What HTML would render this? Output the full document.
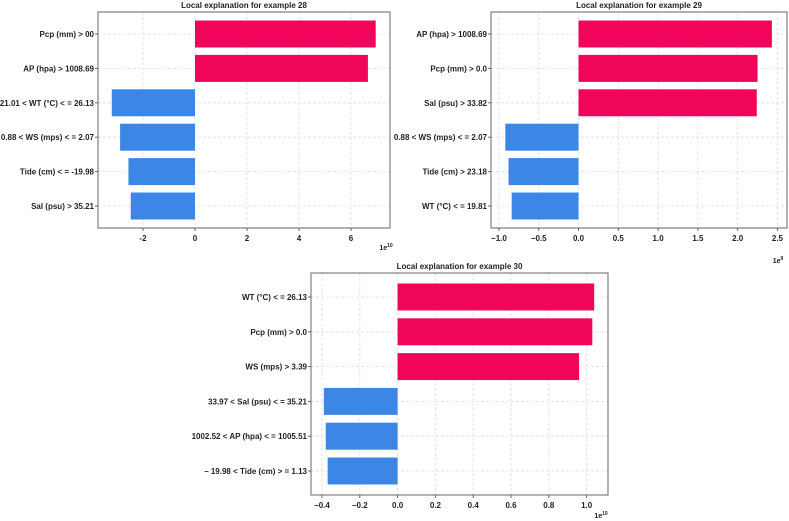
<!DOCTYPE html>
<html><head><meta charset="utf-8"><style>
html,body{margin:0;padding:0;background:#fff;width:789px;height:521px;overflow:hidden}
svg{display:block}
text{font-family:"Liberation Sans",Arial,sans-serif;font-weight:bold;fill:#222}
</style></head><body>
<svg id="s" width="789" height="521" xmlns="http://www.w3.org/2000/svg"></svg>
<script>
const labels28 = ["Pcp (mm) > 00","AP (hpa) > 1008.69","21.01 < WT (°C) < = 26.13","0.88 < WS (mps) < = 2.07","Tide (cm) < = -19.98","Sal (psu) > 35.21"];
const values28 = [6.95, 6.65, -3.2, -2.88, -2.56, -2.47];
const ticks28 = [-2, 0, 2, 4, 6];
const labels29 = ["AP (hpa) > 1008.69","Pcp (mm) > 0.0","Sal (psu) > 33.82","0.88 < WS (mps) < = 2.07","Tide (cm) > 23.18","WT (°C) < = 19.81"];
const values29 = [2.43, 2.25, 2.24, -0.92, -0.88, -0.84];
const ticks29 = [-1.0, -0.5, 0.0, 0.5, 1.0, 1.5, 2.0, 2.5];
const labels30 = ["WT (°C) < = 26.13","Pcp (mm) > 0.0","WS (mps) > 3.39","33.97 < Sal (psu) < = 35.21","1002.52 < AP (hpa) < = 1005.51","– 19.98 < Tide (cm) > = 1.13"];
const values30 = [1.04, 1.03, 0.96, -0.39, -0.38, -0.37];
const ticks30 = [-0.4, -0.2, 0.0, 0.2, 0.4, 0.6, 0.8, 1.0];

const NS="http://www.w3.org/2000/svg";
const svg=document.getElementById('s');
function mk(tag,attrs,parent){const e=document.createElementNS(NS,tag);for(const k in attrs)e.setAttribute(k,attrs[k]);(parent||svg).appendChild(e);return e;}

function chart(cfg){
  const g=mk('g',{});
  
  
  const x=v=>cfg.x0+(v-cfg.dmin)/(cfg.dmax-cfg.dmin)*(cfg.x1-cfg.x0);
  const n=cfg.labels.length;
  const pad=cfg.pad;
  const step=(cfg.y1-cfg.y0-2*pad)/(n-1);
  const yc=i=>cfg.y0+pad+step*i;
  cfg.ticks.forEach(t=>{const l=mk('line',{x1:x(t),x2:x(t),y1:cfg.y0,y2:cfg.y1,stroke:'#ddd','stroke-dasharray':'3,2','stroke-width':0.8},g);
    });
  cfg.labels.forEach((_,i)=>{const l=mk('line',{x1:cfg.x0,x2:cfg.x1,y1:yc(i),y2:yc(i),stroke:'#ddd','stroke-dasharray':'3,2','stroke-width':0.8},g);
    });
  cfg.values.forEach((v,i)=>{
    const a=x(0),b=x(v);
    const r=mk('rect',{x:Math.min(a,b),y:yc(i)-13.5,width:Math.abs(b-a),height:27,fill:v>=0?'#f0055a':'#3c87e6'},g);
    
    
  });
  const f=mk('rect',{x:cfg.x0,y:cfg.y0,width:cfg.x1-cfg.x0,height:cfg.y1-cfg.y0,fill:'none',stroke:'#666','stroke-width':1},g);
  
  cfg.labels.forEach((s,i)=>{
    mk('line',{x1:cfg.x0-3,x2:cfg.x0,y1:yc(i),y2:yc(i),stroke:'#666'},g);
    const t=mk('text',{x:cfg.x0-4,y:yc(i)+3,'font-size':8,'text-anchor':'end'},g);
    t.textContent=s;
    
  });
  cfg.ticks.forEach(tv=>{
    mk('line',{x1:x(tv),x2:x(tv),y1:cfg.y1,y2:cfg.y1+3,stroke:'#666'},g);
    const t=mk('text',{x:x(tv),y:cfg.y1+13,'font-size':8,'text-anchor':'middle'},g);
    t.textContent=cfg.fmt(tv);
    
  });
  const tt=mk('text',{x:(cfg.x0+cfg.x1)/2,y:cfg.y0-4,'font-size':8,'text-anchor':'middle'},g);
  tt.textContent=cfg.title;
  
  const m=mk('text',{x:cfg.mx,y:cfg.my,'font-size':7,'text-anchor':'middle'},g);
  m.innerHTML='1e<tspan dy="-3" font-size="5">'+cfg.exp+'</tspan>';
  
}
chart({name:'chart-example-28',labels:labels28,values:values28,ticks:ticks28,dmin:-3.73,dmax:7.5,x0:98,x1:390,y0:12,y1:228,pad:22,
  title:'Local explanation for example 28',fmt:v=>String(v),exp:'10',mx:386,my:250});
chart({name:'chart-example-29',labels:labels29,values:values29,ticks:ticks29,dmin:-1.1,dmax:2.62,x0:491,x1:787,y0:12,y1:228,pad:22,
  title:'Local explanation for example 29',fmt:v=>v.toFixed(1).replace('-','−'),exp:'9',mx:778,my:263});
chart({name:'chart-example-30',labels:labels30,values:values30,ticks:ticks30,dmin:-0.458,dmax:1.113,x0:311,x1:608,y0:273,y1:495,pad:24,
  title:'Local explanation for example 30',fmt:v=>v.toFixed(1).replace('-','−'),exp:'10',mx:601,my:518});
</script>
</body></html>
